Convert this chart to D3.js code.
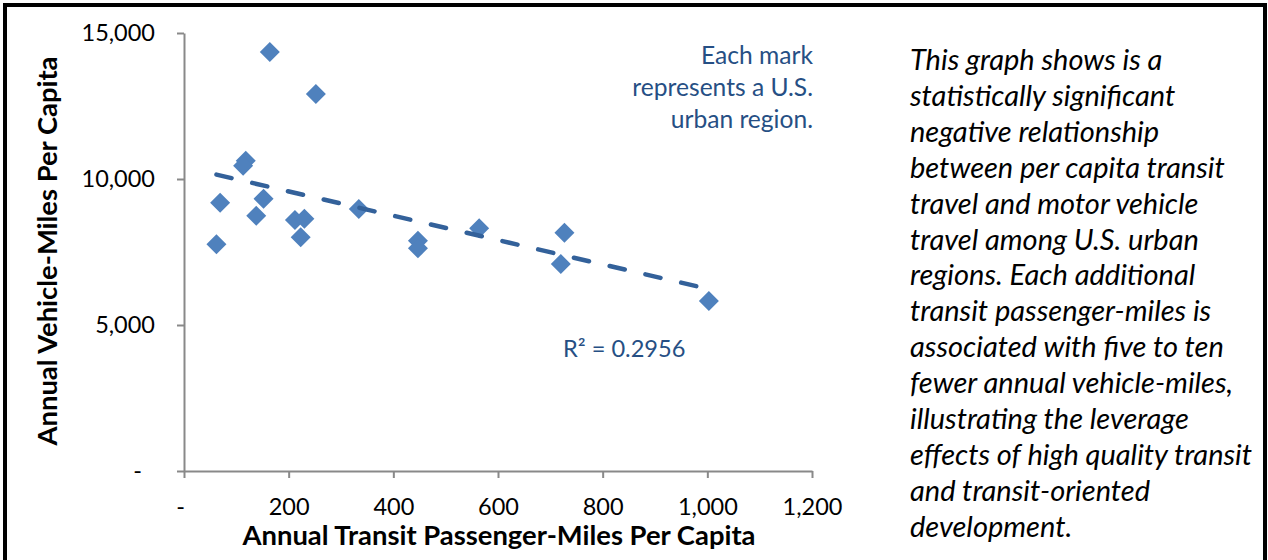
<!DOCTYPE html>
<html><head><meta charset="utf-8">
<script src="https://cdn.jsdelivr.net/npm/d3@7"></script>
<style>
body{margin:0;background:#fff;}
svg{display:block;font-family:Lato,"Open Sans",sans-serif;}
</style>
</head><body>
<svg id="c" width="1268" height="560"></svg>
<script>
// ---- data ----
const transitMiles = [164, 252, 118, 113, 69, 62, 152, 138, 212, 230, 223, 334, 447, 447, 564, 727, 720, 1003];
const vehicleMiles = [14349, 12911, 10627, 10455, 9188, 7764, 9325, 8743, 8596, 8640, 8003, 8973, 7887, 7626, 8311, 8161, 7089, 5822];
const xTicks = [0, 200, 400, 600, 800, 1000, 1200];
const xTickLabels = ["-", "200", "400", "600", "800", "1,000", "1,200"];
const yTicks = [0, 5000, 10000, 15000];
const yTickLabels = ["-", "5,000", "10,000", "15,000"];
const xTitle = "Annual Transit Passenger-Miles Per Capita";
const yTitle = "Annual Vehicle-Miles Per Capita";
const rSquaredLabel = "R² = 0.2956";
const noteLines = ["Each mark", "represents a U.S.", "urban region."];
const paragraphLines = [
  "This graph shows is a",
  "statistically significant",
  "negative relationship",
  "between per capita transit",
  "travel and motor vehicle",
  "travel among U.S. urban",
  "regions. Each additional",
  "transit passenger-miles is",
  "associated with five to ten",
  "fewer annual vehicle-miles,",
  "illustrating the leverage",
  "effects of high quality transit",
  "and transit-oriented",
  "development."
];

const points = transitMiles.map((x, i) => ({x, y: vehicleMiles[i]}));
const svg = d3.select("#c");

const x = d3.scaleLinear().domain([0, 1200]).range([184, 812]);
const y = d3.scaleLinear().domain([0, 15000]).range([471, 33]);

const axisColor = "#898989";

// y axis
const gy = svg.append("g").attr("transform", "translate(184,0)")
  .call(d3.axisLeft(y).tickValues(yTicks).tickFormat((d, i) => yTickLabels[i])
    .tickSizeInner(7).tickSizeOuter(0).tickPadding(22));
// x axis
const gx = svg.append("g").attr("transform", "translate(0,471)")
  .call(d3.axisBottom(x).tickValues(xTicks).tickFormat((d, i) => xTickLabels[i])
    .tickSizeInner(7).tickSizeOuter(0).tickPadding(20));

[gx, gy].forEach(g => {
  g.select(".domain").attr("stroke", axisColor).attr("stroke-width", 2);
  g.selectAll(".tick line").attr("stroke", axisColor).attr("stroke-width", 2);
  g.selectAll(".tick text").attr("fill", "#000").attr("font-size", 23.5)
    .attr("font-family", "Lato, 'Open Sans', sans-serif");
});
gy.selectAll(".tick text").filter((d, i) => i === 0).attr("dx", -13);
gx.selectAll(".tick text").filter((d, i) => i === 0).attr("dx", -4);

// axis titles
svg.append("text").attr("x", 499).attr("y", 545).attr("text-anchor", "middle")
  .attr("font-size", 27.4).attr("font-weight", 700).attr("fill", "#000").text(xTitle);
svg.append("text").attr("transform", "translate(57,251) rotate(-90)").attr("text-anchor", "middle")
  .attr("font-size", 27.4).attr("font-weight", 700).attr("fill", "#000").text(yTitle);

// markers
svg.append("g").selectAll("path").data(points).join("path")
  .attr("d", d3.symbol(d3.symbolSquare, 200))
  .attr("transform", d => `translate(${x(d.x)},${y(d.y)}) rotate(45)`)
  .attr("fill", "#4F81BD");

// linear trendline (least squares from the data)
const mx = d3.mean(points, d => d.x), my = d3.mean(points, d => d.y);
const slope = d3.sum(points, d => (d.x - mx) * (d.y - my)) / d3.sum(points, d => (d.x - mx) ** 2);
const icpt = my - slope * mx;
const [x0, x1] = d3.extent(points, d => d.x);
svg.append("path")
  .datum([x0, x1])
  .attr("d", d3.line().x(v => x(v)).y(v => y(icpt + slope * v)))
  .attr("stroke", "#33619A").attr("stroke-width", 4.5).attr("stroke-linecap", "round")
  .attr("stroke-dasharray", "15.5,21.2").attr("fill", "none");

// annotations
svg.append("text").attr("x", 563).attr("y", 357).attr("font-size", 23.6).attr("fill", "#264F84").text(rSquaredLabel);
svg.append("g").selectAll("text").data(noteLines).join("text")
  .attr("x", 813).attr("y", (d, i) => 64 + i * 32).attr("text-anchor", "end")
  .attr("font-size", 24.6).attr("fill", "#264F84").text(d => d);

// side paragraph
svg.append("g").selectAll("text").data(paragraphLines).join("text")
  .attr("x", 910).attr("y", (d, i) => 70 + i * 35.9)
  .attr("font-size", 29).attr("font-style", "italic").attr("fill", "#000").text(d => d);

// frame
svg.append("path").attr("d", "M5,560V5H1265V560").attr("fill", "none")
  .attr("stroke", "#000").attr("stroke-width", 4);
</script>
</body></html>
